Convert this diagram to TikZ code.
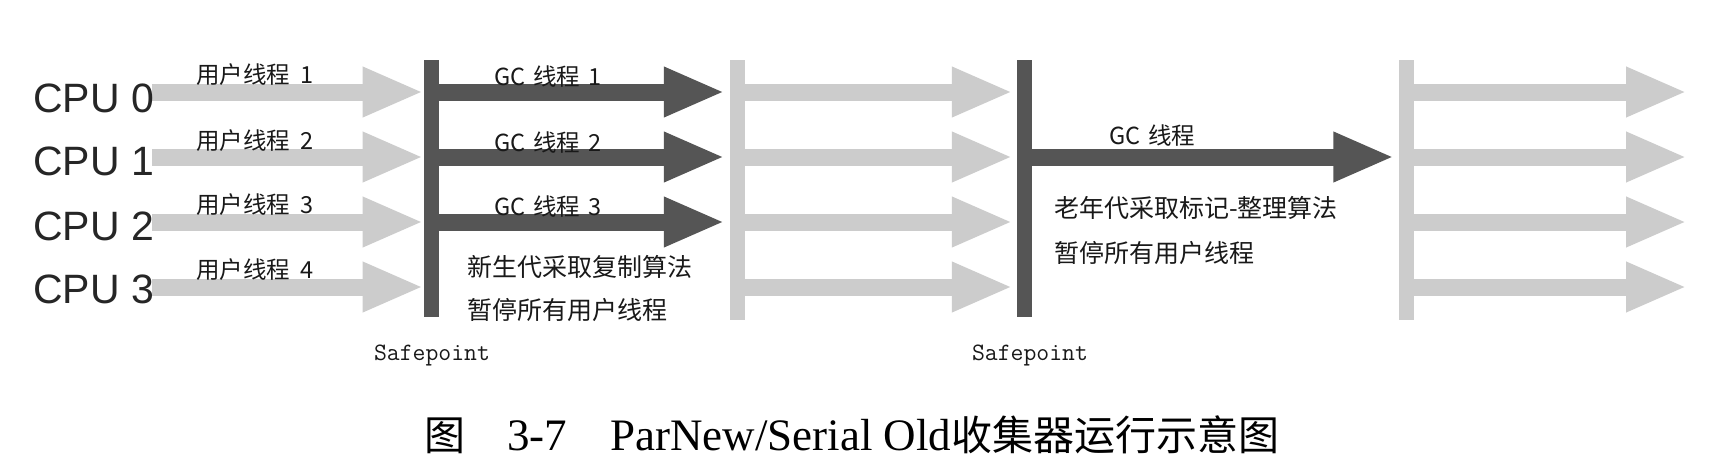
\documentclass[tikz,border=0pt]{standalone}
\usepackage{fontspec}
\setmainfont{Liberation Serif}
\newfontfamily\cjk{Noto Sans CJK SC}
\newfontfamily\cpufont{Liberation Sans}
\usetikzlibrary{arrows.meta}
\definecolor{lightg}{RGB}{204,204,204}
\definecolor{darkg}{RGB}{85,85,85}
\begin{document}
\begin{tikzpicture}[x=1pt,y=-1pt,
  lightarrow/.style={draw=lightg,line width=17pt,-{Triangle[length=61pt,width=46pt]}},
  darkarrow/.style={draw=darkg,line width=17pt,-{Triangle[length=61pt,width=46pt]}},
  darkbar/.style={fill=darkg,draw=none,inner sep=0pt,minimum width=15.5pt,minimum height=257pt},
  lightbar/.style={fill=lightg,draw=none,inner sep=0pt,minimum width=15pt,minimum height=260pt},
  cpulabel/.style={anchor=base west,inner sep=0pt,text=black!85,font=\cpufont\fontsize{41}{41}\selectfont},
  small/.style={anchor=west,inner sep=0pt,text=black!90,font=\cjk\fontsize{23.5}{23.5}\selectfont},
  note/.style={anchor=west,inner sep=0pt,text=black!90,font=\cjk\fontsize{25}{25}\selectfont},
  sp/.style={anchor=base,inner sep=0pt,text=black!90,font=\ttfamily\fontsize{25}{25}\selectfont}
]
\fill[white] (0,0) rectangle (1720,474);
\useasboundingbox (0,0) rectangle (1720,474);

% safepoint / phase bars
\node[darkbar]  (b1) at (431.5,188.5) {};
\node[lightbar] (b2) at (737.5,190) {};
\node[darkbar]  (b3) at (1024.25,188.5) {};
\node[lightbar] (b4) at (1406,190) {};

% row start / end coordinates
\foreach \i/\y in {0/92,1/157,2/222,3/287} {
  \coordinate (a\i) at (152,\y);
  \coordinate (e\i) at (1687,\y);
}

% user thread arrows
\foreach \i in {0,...,3} {
  \draw[lightarrow] (a\i) -- (a\i -| b1.west);
  \draw[lightarrow,shorten >=3.5pt] (a\i -| b2.east) -- (a\i -| b3.west);
  \draw[lightarrow] (a\i -| b4.east) -- (e\i);
}
% GC thread arrows
\foreach \i in {0,1,2} {
  \draw[darkarrow,shorten >=5pt] (a\i -| b1.east) -- (a\i -| b2.west);
}
\draw[darkarrow,shorten >=4pt] (a1 -| b3.east) -- (a1 -| b4.west);

% CPU labels
\node[cpulabel] (cpu0) at (33,112) {CPU 0};
\node[cpulabel] (cpu1) at (33,175) {CPU 1};
\node[cpulabel] (cpu2) at (33,240) {CPU 2};
\node[cpulabel] (cpu3) at (33,303) {CPU 3};

% user thread labels
\node[small] (u1) at (196,75)  {用户线程\hspace{10pt}1};
\node[small] (u2) at (196,141) {用户线程\hspace{10pt}2};
\node[small] (u3) at (196,205) {用户线程\hspace{10pt}3};
\node[small] (u4) at (196,270) {用户线程\hspace{10pt}4};

% GC thread labels
\node[small] (g1) at (494,77)  {GC\hspace{8pt}线程\hspace{8pt}1};
\node[small] (g2) at (494,143) {GC\hspace{8pt}线程\hspace{8pt}2};
\node[small] (g3) at (494,207) {GC\hspace{8pt}线程\hspace{8pt}3};
\node[small] (g4) at (1109,136) {GC\hspace{8pt}线程};

% notes
\node[note] (n1) at (467,267) {新生代采取复制算法};
\node[note] (n2) at (467,310) {暂停所有用户线程};
\node[note] (n3) at (1054,208) {老年代采取标记-整理算法};
\node[note] (n4) at (1054,253) {暂停所有用户线程};

% safepoint labels
\node[sp] (s1) at (432,360) {Safepoint};
\node[sp] (s2) at (1030,360) {Safepoint};

% caption
\node[anchor=base west,inner sep=0pt,font=\fontsize{45}{48}\selectfont] (cap) at (424,450)
  {{\cjk\fontsize{41}{48}\selectfont 图}\hspace{42pt}3-7\hspace{43pt}ParNew/Serial Old{\cjk\fontsize{41}{48}\selectfont 收集器运行示意图}};
\end{tikzpicture}
\end{document}
